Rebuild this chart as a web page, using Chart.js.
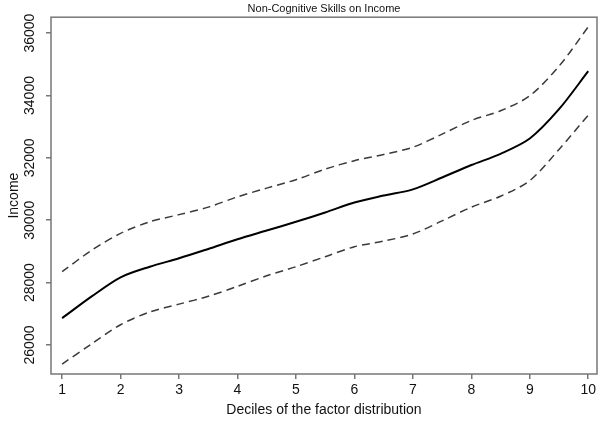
<!DOCTYPE html>
<html>
<head>
<meta charset="utf-8">
<script src="https://cdn.jsdelivr.net/npm/chart.js@4"></script>
<style>
  body { margin: 0; background: #fff; }
  canvas { display: block; }
</style>
</head>
<body>
<canvas id="chart" width="606" height="425"></canvas>
<script>
// values
const deciles = [1, 1.5, 2, 2.5, 3, 3.5, 4, 4.5, 5, 5.5, 6, 6.5, 7, 7.5, 8, 8.5, 9, 9.5, 10];
const income = [26860, 27550, 28170, 28510, 28780, 29080, 29390, 29670, 29950, 30250, 30570, 30790, 30990, 31370, 31770, 32130, 32620, 33560, 34780];
const upperCI = [28350, 29030, 29580, 29950, 30180, 30420, 30750, 31030, 31300, 31640, 31910, 32110, 32340, 32760, 33200, 33510, 33990, 34940, 36200];
const lowerCI = [25390, 26030, 26650, 27060, 27310, 27560, 27880, 28220, 28510, 28830, 29150, 29330, 29560, 29980, 30420, 30770, 31270, 32270, 33370];
const xTicks = [1, 2, 3, 4, 5, 6, 7, 8, 9, 10];
const yTicks = [26000, 28000, 30000, 32000, 34000, 36000];

const font = "'Liberation Sans', Arial, sans-serif";
const toPoints = (ys) => deciles.map((x, i) => ({ x: x, y: ys[i] }));

// frame round the plot area
const frame = {
    id: 'frame',
    afterDatasetsDraw(chart) {
        const a = chart.chartArea;
        const ctx = chart.ctx;
        ctx.save();
        ctx.strokeStyle = '#777';
        ctx.lineWidth = 1.5;
        ctx.strokeRect(a.left, a.top, a.right - a.left, a.bottom - a.top);
        ctx.restore();
    }
};

let ctx = document.getElementById('chart');
let chart = new Chart(ctx, {
    type: 'line',
    data: {
        datasets: [
            {
                data: toPoints(upperCI),
                borderColor: '#3a3a3a',
                borderWidth: 1.5,
                borderDash: [8, 5],
                pointRadius: 0,
                tension: 0.3,
            },
            {
                data: toPoints(income),
                borderColor: '#000',
                borderWidth: 2,
                pointRadius: 0,
                tension: 0.3,
            },
            {
                data: toPoints(lowerCI),
                borderColor: '#3a3a3a',
                borderWidth: 1.5,
                borderDash: [8, 5],
                pointRadius: 0,
                tension: 0.3,
            },
        ],
    },
    options: {
        responsive: false,
        animation: false,
        devicePixelRatio: 1,
        layout: { padding: { left: 0, right: 9, top: 0, bottom: 0 } },
        plugins: {
            legend: { display: false },
            tooltip: { enabled: false },
            title: {
                display: true,
                text: 'Non-Cognitive Skills on Income',
                fullSize: false,
                color: '#111',
                font: { family: font, size: 11, weight: 'normal', lineHeight: 1.2 },
                padding: { top: 2, bottom: 2 },
            },
        },
        scales: {
            x: {
                type: 'linear',
                min: 0.81,
                max: 10.15,
                afterBuildTicks: (s) => { s.ticks = xTicks.map(v => ({ value: v })); },
                afterFit: (s) => { s.height = 51; },
                border: { display: false },
                grid: { drawOnChartArea: false, drawTicks: true, tickLength: 5, color: '#777', lineWidth: 1.5 },
                ticks: {
                    padding: 3,
                    color: '#111',
                    maxRotation: 0,
                    font: { family: font, size: 14 },
                },
                title: {
                    display: true,
                    text: 'Deciles of the factor distribution',
                    color: '#111',
                    font: { family: font, size: 14 },
                    padding: { top: 0, bottom: 6 },
                },
            },
            y: {
                type: 'linear',
                min: 25070,
                max: 36510,
                afterBuildTicks: (s) => { s.ticks = yTicks.map(v => ({ value: v })); },
                afterFit: (s) => { s.width = 51; },
                border: { display: false },
                grid: { drawOnChartArea: false, drawTicks: true, tickLength: 5, color: '#777', lineWidth: 1.5 },
                ticks: {
                    minRotation: 90,
                    maxRotation: 90,
                    crossAlign: 'center',
                    padding: -3.5,
                    color: '#111',
                    font: { family: font, size: 14 },
                    callback: (v) => String(v),
                },
                title: {
                    display: true,
                    text: 'Income',
                    color: '#111',
                    font: { family: font, size: 14 },
                    padding: { top: 6, bottom: 0 },
                },
            },
        },
    },
    plugins: [frame],
});
</script>
</body>
</html>
